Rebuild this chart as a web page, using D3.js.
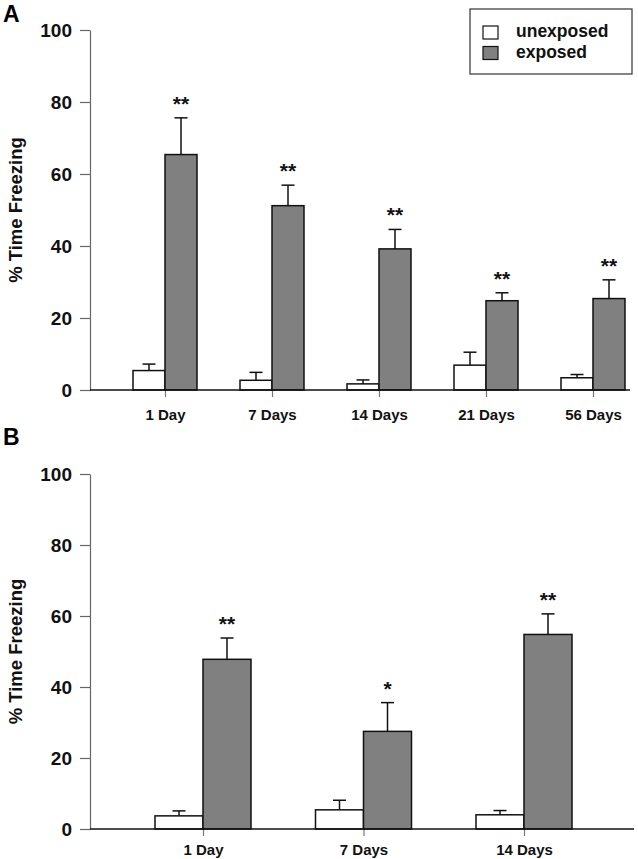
<!DOCTYPE html>
<html>
<head>
<meta charset="utf-8">
<script src="https://cdn.jsdelivr.net/npm/d3@7"></script>
<style>
  html, body { margin: 0; padding: 0; background: #fff; }
  svg { display: block; font-family: "Liberation Sans", Arial, sans-serif; }
</style>
</head>
<body>
<svg id="chart" width="638" height="859"></svg>
<script>
// ---- Data ----
const yTicks = [0, 20, 40, 60, 80, 100];
const seriesNames = ["unexposed", "exposed"];

const categoriesA = ["1 Day", "7 Days", "14 Days", "21 Days", "56 Days"];
const unexposedA = [5.4, 2.7, 1.7, 6.9, 3.4];
const unexposedErrA = [1.8, 2.2, 1.1, 3.6, 0.9];
const exposedA = [65.4, 51.2, 39.2, 24.8, 25.4];
const exposedErrA = [10.2, 5.7, 5.4, 2.2, 5.2];
const sigA = ["**", "**", "**", "**", "**"];

const categoriesB = ["1 Day", "7 Days", "14 Days"];
const unexposedB = [3.7, 5.4, 4.0];
const unexposedErrB = [1.4, 2.7, 1.2];
const exposedB = [47.8, 27.5, 54.8];
const exposedErrB = [6.0, 8.1, 5.8];
const sigB = ["**", "*", "**"];

// ---- Drawing ----
const svg = d3.select("#chart");
const FONT = "'Liberation Sans', Arial, sans-serif";

function drawPanel(opts) {
  const { label, labelY, categories, unexp, unexpErr, exp, expErr, sig,
          yRange, xRange, barW, axisX, axisEnd, labelGap } = opts;
  const g = svg.append("g");
  const y = d3.scaleLinear().domain([0, 100]).range(yRange);
  const x = d3.scalePoint().domain(categories).range(xRange);

  // panel letter
  g.append("text").attr("x", 3).attr("y", labelY)
    .attr("font-size", 23).attr("font-weight", "bold").attr("fill", "#000")
    .text(label);

  // y axis
  const yAxis = g.append("g").attr("transform", `translate(${axisX},0)`)
    .call(d3.axisLeft(y).tickValues(yTicks).tickSize(10).tickSizeOuter(0).tickPadding(8));
  yAxis.select(".domain").attr("stroke", "#666").attr("stroke-width", 1.2);
  yAxis.selectAll(".tick line").attr("stroke", "#666").attr("stroke-width", 1.2);
  yAxis.selectAll(".tick text").attr("font-size", 19).attr("font-weight", "bold")
    .attr("font-family", FONT).attr("fill", "#111").attr("dy", "0.36em");

  // y title
  const yMid = (yRange[0] + yRange[1]) / 2;
  g.append("text")
    .attr("transform", `translate(22,${yMid}) rotate(-90)`)
    .attr("text-anchor", "middle")
    .attr("font-size", 18.5).attr("font-weight", "bold").attr("fill", "#111")
    .text("% Time Freezing");

  // x axis ticks + labels
  const xAxis = g.append("g").attr("transform", `translate(0,${y(0)})`)
    .call(d3.axisBottom(x).tickSize(7).tickSizeOuter(0).tickPadding(labelGap));
  xAxis.select(".domain").remove();
  xAxis.selectAll(".tick line").attr("stroke", "#777").attr("stroke-width", 1.2);
  xAxis.selectAll(".tick text").attr("font-size", 15).attr("font-weight", "bold")
    .attr("font-family", FONT).attr("fill", "#111");

  // bars
  const rows = categories.map((c, i) => ({ c, u: unexp[i], ue: unexpErr[i], e: exp[i], ee: expErr[i], s: sig[i] }));

  // error bars (upward only)
  const errs = [];
  rows.forEach(r => {
    errs.push({ cx: x(r.c) - barW / 2, v: r.u, err: r.ue });
    errs.push({ cx: x(r.c) + barW / 2, v: r.e, err: r.ee });
  });
  const eg = g.append("g").attr("stroke", "#111").attr("stroke-width", 1.5);
  errs.forEach(d => {
    eg.append("line").attr("x1", d.cx).attr("x2", d.cx)
      .attr("y1", y(d.v)).attr("y2", y(d.v + d.err));
    eg.append("line").attr("x1", d.cx - 6.5).attr("x2", d.cx + 6.5)
      .attr("y1", y(d.v + d.err)).attr("y2", y(d.v + d.err));
  });

  g.append("g").selectAll("rect.u").data(rows).join("rect")
    .attr("x", d => x(d.c) - barW).attr("width", barW)
    .attr("y", d => y(d.u)).attr("height", d => y(0) - y(d.u))
    .attr("fill", "#fff").attr("stroke", "#111").attr("stroke-width", 1.5);
  g.append("g").selectAll("rect.e").data(rows).join("rect")
    .attr("x", d => x(d.c)).attr("width", barW)
    .attr("y", d => y(d.e)).attr("height", d => y(0) - y(d.e))
    .attr("fill", "#808080").attr("stroke", "#111").attr("stroke-width", 1.5);

  // significance
  g.append("g").selectAll("text").data(rows).join("text")
    .attr("x", d => x(d.c) + barW / 2)
    .attr("y", d => y(d.e + d.ee) - 7)
    .attr("text-anchor", "middle").attr("font-size", 21).attr("font-weight", "bold").attr("fill", "#111")
    .text(d => d.s);

  // x baseline
  g.append("line").attr("x1", axisX).attr("x2", axisEnd)
    .attr("y1", y(0)).attr("y2", y(0))
    .attr("stroke", "#111").attr("stroke-width", 1.5);
}

drawPanel({
  label: "A", labelY: 22,
  categories: categoriesA, unexp: unexposedA, unexpErr: unexposedErrA,
  exp: exposedA, expErr: exposedErrA, sig: sigA,
  yRange: [390, 30], xRange: [165, 593], barW: 32,
  axisX: 90, axisEnd: 630, labelGap: 12
});

drawPanel({
  label: "B", labelY: 445,
  categories: categoriesB, unexp: unexposedB, unexpErr: unexposedErrB,
  exp: exposedB, expErr: exposedErrB, sig: sigB,
  yRange: [829, 474], xRange: [203, 524], barW: 48,
  axisX: 90, axisEnd: 634, labelGap: 8
});

// legend
const lg = svg.append("g");
lg.append("rect").attr("x", 470).attr("y", 9).attr("width", 162).attr("height", 65)
  .attr("fill", "#fff").attr("stroke", "#333").attr("stroke-width", 1.2);
const legendFills = ["#fff", "#808080"];
seriesNames.forEach((name, i) => {
  lg.append("rect").attr("x", 483).attr("y", 26 + i * 20.5).attr("width", 15).attr("height", 13)
    .attr("fill", legendFills[i]).attr("stroke", "#111").attr("stroke-width", 1.2);
  lg.append("text").attr("x", 516).attr("y", 37 + i * 21)
    .attr("font-size", 17.5).attr("font-weight", "bold").attr("fill", "#111")
    .text(name);
});
</script>
</body>
</html>
